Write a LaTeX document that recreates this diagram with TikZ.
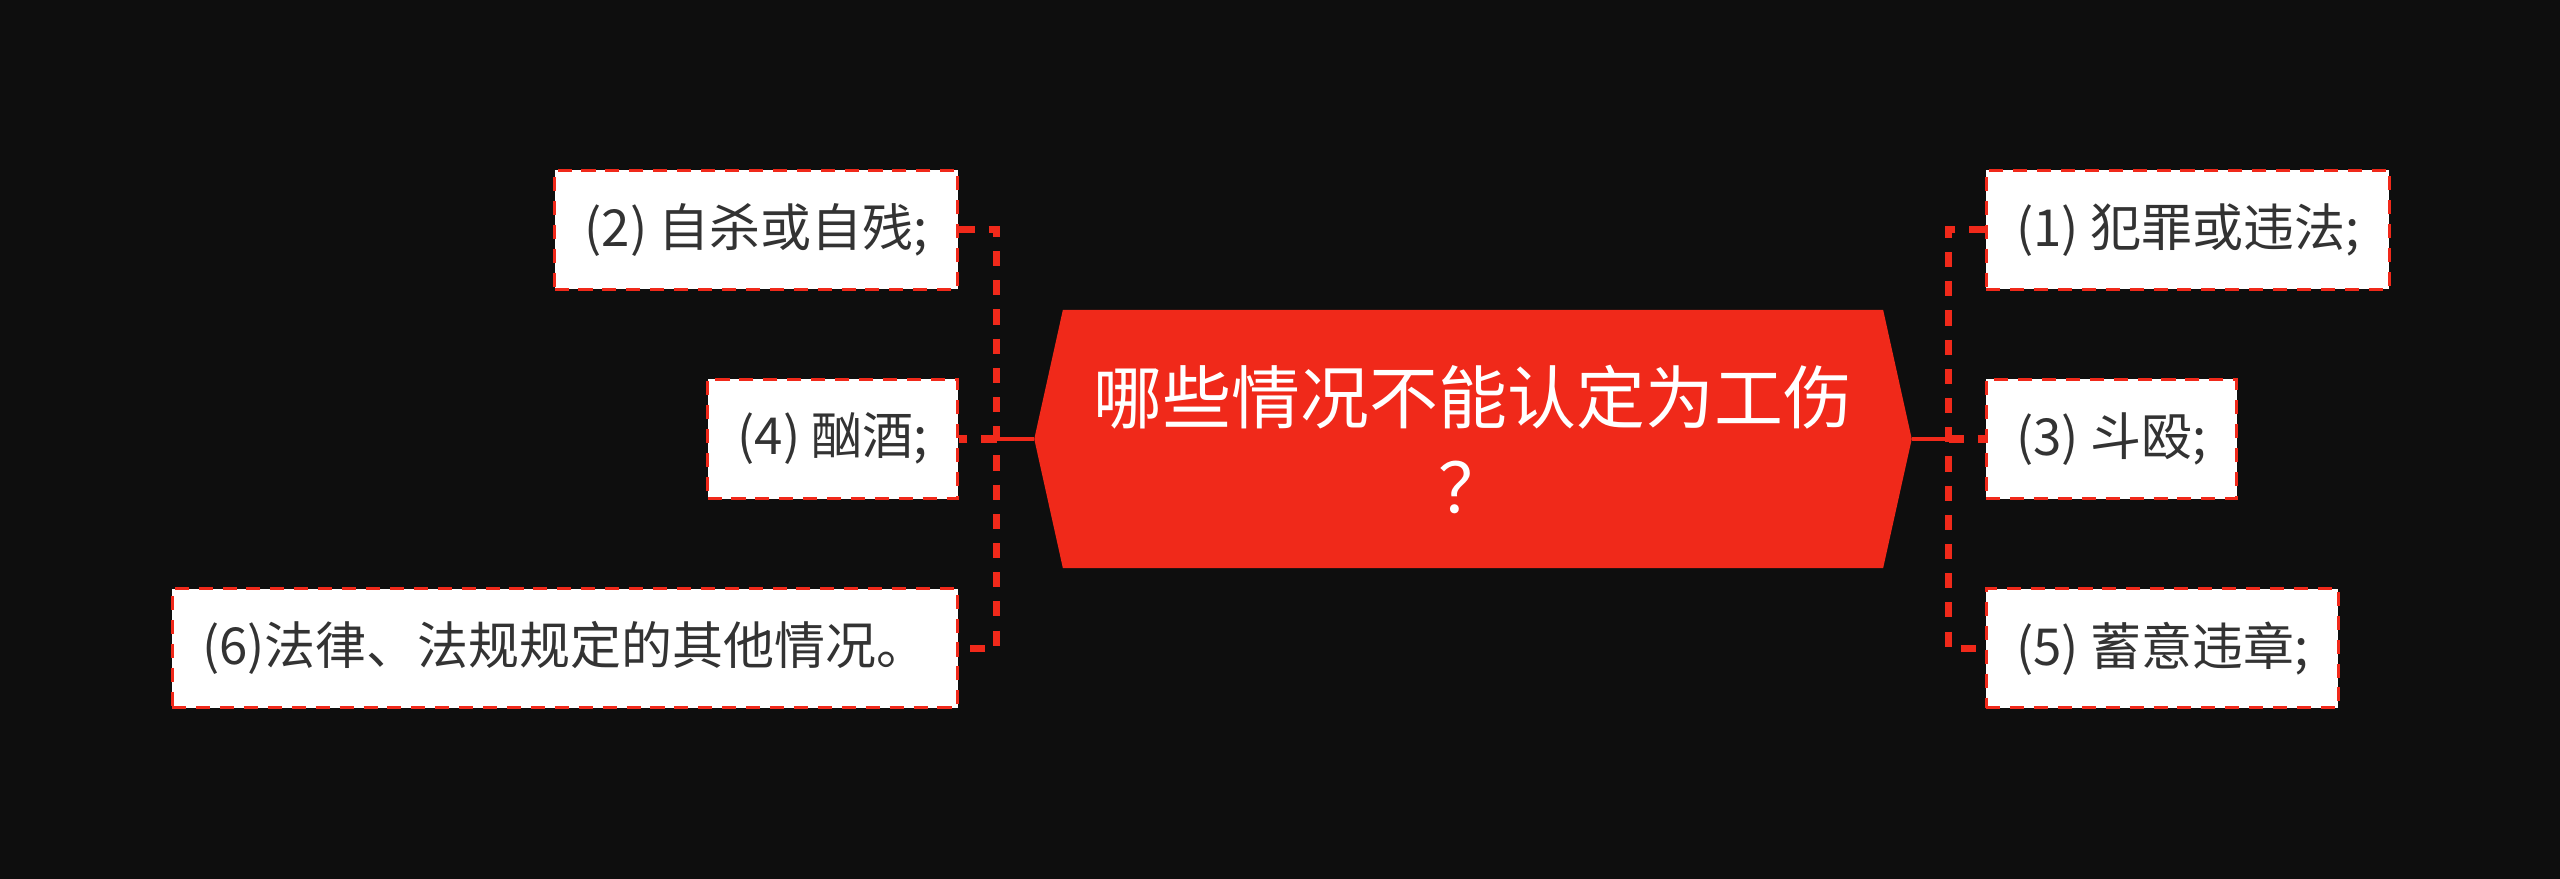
\documentclass[tikz,border=0pt]{standalone}
\usepackage{fontspec}
\setmainfont{Noto Sans CJK SC}
\usetikzlibrary{positioning, shapes.symbols}

\definecolor{bgdark}{HTML}{0E0E0E}
\definecolor{mapred}{HTML}{F0291A}
\definecolor{inkgray}{HTML}{333333}

\tikzset{
  hub/.style={shape=signal, signal to=west and east, signal pointer angle=155,
    fill=mapred, text=white, minimum width=8.77cm, minimum height=2.58cm,
    inner sep=0pt, align=center, font=\fontsize{19.6}{25.6}\selectfont},
  leaf/.style={draw=mapred, fill=white, text=inkgray, line width=0.9pt,
    dash pattern=on 4pt off 2.8pt, minimum height=1.19cm, inner xsep=0.3cm,
    font=\fontsize{14.5}{17}\selectfont},
  trunk/.style={draw=mapred, line width=1.1pt},
  branch/.style={draw=mapred, line width=2pt, dash pattern=on 4.3pt off 4pt},
}

\begin{document}
\begin{tikzpicture}[x=0.01cm, y=-0.01cm]
    \useasboundingbox (0,0) rectangle (2560,879);
    \fill[bgdark] (0,0) rectangle (2560,879);

    % central topic
    \node[hub] (hub) at (1473,439) {哪些情况不能认定为工伤\\？};

    % right side
    \node[leaf, right=0.72cm of hub] (n3) {(3) 斗殴;};
    \node[leaf, above=0.87cm of n3.north west, anchor=south west] (n1) {(1) 犯罪或违法;};
    \node[leaf, below=0.87cm of n3.south west, anchor=north west] (n5) {(5) 蓄意违章;};

    % left side
    \node[leaf, left=0.74cm of hub] (n4) {(4) 酗酒;};
    \node[leaf, above=0.87cm of n4.north east, anchor=south east] (n2) {(2) 自杀或自残;};
    \node[leaf, below=0.87cm of n4.south east, anchor=north east] (n6) {(6)法律、法规规定的其他情况。};

    % junctions
    \coordinate[right=0.36cm of hub.east] (jr);
    \coordinate[left=0.37cm of hub.west] (jl);

    \draw[trunk] (hub.east) -- (jr);
    \draw[branch] (n1.west) -| (jr) |- (n5.west);
    \draw[branch] (jr) -- (n3.west);

    \draw[trunk] (hub.west) -- (jl);
    \draw[branch] (n2.east) -| (jl) |- (n6.east);
    \draw[branch] (jl) -- (n4.east);
\end{tikzpicture}
\end{document}
